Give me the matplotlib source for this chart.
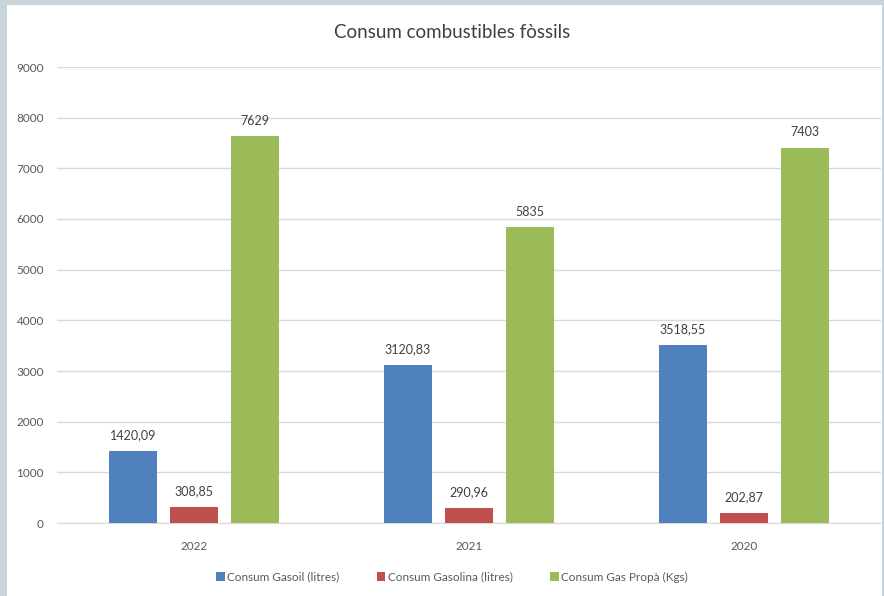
import matplotlib.pyplot as plt
import numpy as np
from matplotlib.patches import Rectangle

# ── Data ─────────────────────────────────────────────────────────────────────
YEARS = ["2022", "2021", "2020"]
GASOIL = [1420.09, 3120.83, 3518.55]
GASOLINA = [308.85, 290.96, 202.87]
PROPA = [7629, 5835, 7403]
SERIES = ["Consum Gasoil (litres)", "Consum Gasolina (litres)", "Consum Gas Propà (Kgs)"]
COLORS = ["#4F81BD", "#C0504D", "#9BBB59"]

plt.rcParams["font.family"] = ["Lato", "DejaVu Sans"]

fig = plt.figure(figsize=(8.84, 5.96), dpi=100)
fig.patch.set_facecolor("#C8D3DA")
fig.patches.append(Rectangle((7 / 884, 0), (882 - 7) / 884, 1 - 5 / 596,
                             transform=fig.transFigure, facecolor="white",
                             edgecolor="none", zorder=-10))

ax = fig.add_axes([57 / 884, 73 / 596, (881 - 57) / 884, (523 - 67) / 596])
ax.set_zorder(1)
ax.set_facecolor("none")

x = np.arange(len(YEARS))
width = 0.175
step = 0.222

for k, (vals, name, col) in enumerate(zip([GASOIL, GASOLINA, PROPA], SERIES, COLORS)):
    pos = x + (k - 1) * step
    ax.bar(pos, vals, width, color=col, label=name, zorder=3)
    for p, v in zip(pos, vals):
        txt = f"{v:.2f}".replace(".", ",") if v != int(v) else f"{int(v)}"
        ax.annotate(txt, (p, v), xytext=(0, 7), textcoords="offset points",
                    ha="center", va="bottom", fontsize=9, color="#404040")

ax.set_xlim(-0.5, 2.5)
ax.set_ylim(0, 9000)
ax.set_yticks(range(0, 9001, 1000))
ax.set_yticklabels([str(v) for v in range(0, 9001, 1000)], fontsize=8.5, color="#595959")
ax.set_xticks(x)
ax.set_xticklabels(YEARS, fontsize=8.5, color="#595959")
ax.tick_params(axis="y", length=0, pad=9.5)
ax.tick_params(axis="x", length=0, pad=13)
ax.yaxis.grid(True, color="#D9D9D9", linewidth=1, zorder=0)
ax.set_axisbelow(True)
for s in ["top", "right", "left"]:
    ax.spines[s].set_visible(False)
ax.spines["bottom"].set_color("#D9D9D9")

fig.text(452 / 884, 1 - 33 / 596, "Consum combustibles fòssils", ha="center", va="center",
         fontsize=13.5, color="#404040")

fig.legend(loc="center", bbox_to_anchor=(452 / 884, 1 - 577 / 596), ncol=3, frameon=False,
           fontsize=8.5, handlelength=0.7, handleheight=0.7, handletextpad=0.2,
           columnspacing=3.2, labelcolor="#595959")

plt.savefig("out.png", dpi=100)
